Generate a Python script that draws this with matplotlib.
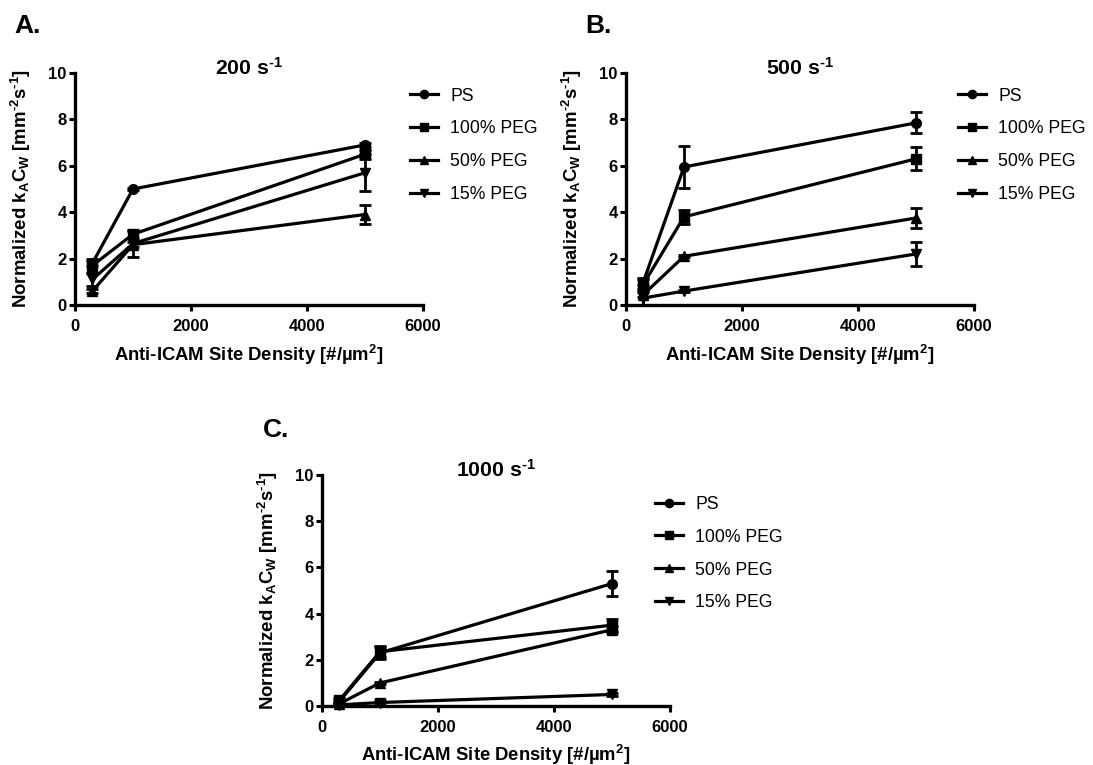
import matplotlib
matplotlib.use("Agg")
import matplotlib.pyplot as plt
from matplotlib.lines import Line2D

plt.rcParams['font.family'] = ['Liberation Sans', 'DejaVu Sans']
plt.rcParams['mathtext.fontset'] = 'custom'
plt.rcParams['mathtext.rm'] = 'Liberation Sans'
plt.rcParams['mathtext.bf'] = 'Liberation Sans:bold'
plt.rcParams['mathtext.it'] = 'Liberation Sans:italic'
plt.rcParams['mathtext.default'] = 'bf'

# ---- data ----
site_density = [300, 1000, 5000]
series_names = ["PS", "100% PEG", "50% PEG", "15% PEG"]
markers = ["o", "s", "^", "v"]
marker_sizes = [7, 6.5, 7.5, 7.5]

titles = ["200 s$^{\u2010 1}$", "500 s$^{\u2010 1}$", "1000 s$^{\u2010 1}$"]
panel_letters = ["A.", "B.", "C."]

# panel A: 200 s^-1
a_ps = [1.8, 5.0, 6.9]
a_ps_err = [0.1, 0.05, 0.1]
a_p100 = [1.7, 3.05, 6.5]
a_p100_err = [0.3, 0.15, 0.2]
a_p50 = [0.6, 2.6, 3.9]
a_p50_err = [0.1, 0.1, 0.42]
a_p15 = [1.1, 2.65, 5.7]
a_p15_err = [0.3, 0.6, 0.8]

# panel B: 500 s^-1
b_ps = [1.0, 5.95, 7.85]
b_ps_err = [0.15, 0.9, 0.45]
b_p100 = [0.9, 3.8, 6.3]
b_p100_err = [0.2, 0.3, 0.5]
b_p50 = [0.45, 2.1, 3.75]
b_p50_err = [0.1, 0.05, 0.43]
b_p15 = [0.3, 0.6, 2.2]
b_p15_err = [0.3, 0.05, 0.5]

# panel C: 1000 s^-1
c_ps = [0.2, 2.3, 5.3]
c_ps_err = [0.05, 0.25, 0.55]
c_p100 = [0.25, 2.35, 3.5]
c_p100_err = [0.1, 0.25, 0.25]
c_p50 = [0.1, 1.0, 3.3]
c_p50_err = [0.05, 0.05, 0.15]
c_p15 = [0.05, 0.15, 0.5]
c_p15_err = [0.02, 0.1, 0.05]

panels = [
    ([a_ps, a_p100, a_p50, a_p15], [a_ps_err, a_p100_err, a_p50_err, a_p15_err]),
    ([b_ps, b_p100, b_p50, b_p15], [b_ps_err, b_p100_err, b_p50_err, b_p15_err]),
    ([c_ps, c_p100, c_p50, c_p15], [c_ps_err, c_p100_err, c_p50_err, c_p15_err]),
]

xticks = [0, 2000, 4000, 6000]
yticks = [0, 2, 4, 6, 8, 10]
xlabel = "Anti-ICAM Site Density [#/µm$^{2}$]"
ylabel = "Normalized k$_{A}$C$_{W}$ [mm$^{\u2010 2}$s$^{\u2010 1}$]"

W, H = 1093, 765
fig = plt.figure(figsize=(W / 100, H / 100), dpi=100)

# axes rectangles in pixels: left, top, right, bottom
rects = [(75, 73, 423, 305), (626, 73, 974, 305), (322, 475, 670, 706)]
xlab_y = [-0.165, -0.165, -0.16]
legend_anchor = [(0.963, 0.937), (0.954, 0.937), (0.957, 0.91)]
letter_pos = [(14, 33), (585, 33), (263, 437)]

for i, (vals, errs) in enumerate(panels):
    l, t, r, b = rects[i]
    ax = fig.add_axes([l / W, 1 - b / H, (r - l) / W, (b - t) / H])
    handles = []
    for j in range(4):
        h = ax.errorbar(site_density, vals[j], yerr=errs[j], color='black', lw=2.3,
                        marker=markers[j], ms=marker_sizes[j], capsize=4.3, capthick=2,
                        elinewidth=2, clip_on=False, zorder=3)
        h[0].set_clip_on(False)
        for c in h[1]:
            c.set_clip_on(False)
        for c in h[2]:
            c.set_clip_on(False)
        handles.append(Line2D([], [], color='black', lw=2.3, marker=markers[j],
                              ms=marker_sizes[j] * 0.85, label=series_names[j]))
    ax.set_xlim(0, 6000)
    ax.set_ylim(0, 10)
    ax.set_xticks(xticks)
    ax.set_yticks(yticks)
    ax.set_xticklabels([str(v) for v in xticks], fontweight='bold', fontsize=12)
    ax.set_yticklabels([str(v) for v in yticks], fontweight='bold', fontsize=12)
    for sp in ['top', 'right']:
        ax.spines[sp].set_visible(False)
    for sp in ['left', 'bottom']:
        ax.spines[sp].set_linewidth(2.4)
    ax.tick_params(axis='both', direction='out', length=4.5, width=2.2)
    ax.tick_params(axis='x', pad=5.5)
    ax.tick_params(axis='y', pad=1.5)
    ax.set_xlabel(xlabel, fontweight='bold', fontsize=13.3)
    ax.xaxis.set_label_coords(0.5, xlab_y[i])
    ax.set_ylabel(ylabel, fontweight='bold', fontsize=13.4)
    ax.yaxis.set_label_coords(-0.12, 0.5)
    ax.text(0.5, -0.008, titles[i], transform=ax.transAxes, ha='center', va='baseline',
            fontsize=15.3, fontweight='bold') if False else None
    ax.annotate(titles[i], xy=(0.5, 1.0), xycoords='axes fraction', xytext=(0, -2),
                textcoords='offset pixels', ha='center', va='baseline',
                fontsize=15.3, fontweight='bold')
    ax.legend(handles=handles, loc='upper left', bbox_to_anchor=legend_anchor[i],
              frameon=False, fontsize=12.7, handlelength=1.6, handletextpad=0.68,
              labelspacing=0.9, borderpad=0, borderaxespad=0, numpoints=1)
    lx, ly = letter_pos[i]
    fig.text(lx / W, 1 - ly / H, panel_letters[i], fontsize=19, fontweight='bold',
             ha='left', va='baseline')

fig.savefig("out.png", dpi=100)
